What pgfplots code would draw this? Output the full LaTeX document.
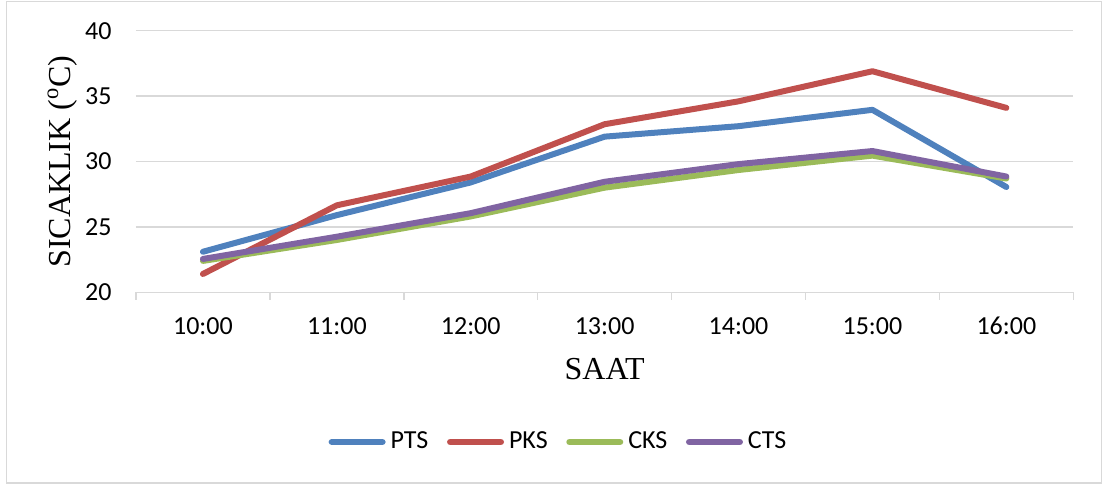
\documentclass[border=0pt]{standalone}
\usepackage{pgfplots}
\pgfplotsset{compat=1.18}
\usepackage{fontspec}
\setmainfont{Carlito}
\newfontfamily\timesfont{Liberation Serif}
\definecolor{cPTS}{HTML}{4F81BD}
\definecolor{cPKS}{HTML}{C0504D}
\definecolor{cCKS}{HTML}{9BBB59}
\definecolor{cCTS}{HTML}{8064A2}
\definecolor{gridc}{HTML}{D9D9D9}
\begin{document}
\begin{tikzpicture}
\useasboundingbox (0,0) rectangle (551.5pt,243pt);
\draw[color=gridc, line width=0.75pt] (3.15pt,1.5pt) rectangle (550.85pt,242.15pt);
\begin{axis}[
  at={(68pt,96.85pt)}, anchor=south west,
  scale only axis, width=468.65pt, height=130.8pt,
  xmin=-0.5, xmax=6.5, ymin=20, ymax=40,
  xtick={0,...,6},
  xticklabels={10:00,11:00,12:00,13:00,14:00,15:00,16:00},
  ytick={20,25,30,35,40},
  xtick pos=bottom, ytick pos=left,
  major tick length=0pt,
  axis line style={draw=none},
  ymajorgrids,
  grid style={color=gridc, line width=0.75pt},
  extra x ticks={-0.5,0.5,1.5,2.5,3.5,4.5,5.5,6.5},
  extra x tick labels={},
  extra x tick style={tick align=outside, major tick length=3.7pt,
    tick style={color=gridc, line width=0.75pt}},
  /pgf/number format/assume math mode=true,
  every tick label/.append style={font=\fontsize{13}{15}\selectfont, text=black},
  xticklabel style={anchor=base, yshift=-20.9pt},
  yticklabel style={anchor=east, xshift=-8.7pt},
  xlabel={SAAT},
  ylabel={SICAKLIK (\textsuperscript{o}C)},
  xlabel style={at={(axis description cs:0.5,0)}, anchor=base, yshift=-43.6pt,
    font=\timesfont\fontsize{16}{19}\selectfont},
  ylabel style={at={(axis description cs:0,0.5)}, anchor=base, yshift=32.65pt,
    font=\timesfont\fontsize{16}{19}\selectfont},
  legend style={draw=none, fill=none, at={(axis description cs:0.4492,-0.5723)}, anchor=center,
    legend columns=4, font=\fontsize{13}{15}\selectfont,
    /tikz/every even column/.append style={column sep=6.8pt},
    nodes={inner xsep=1pt}},
  legend image code/.code={
    \path (0pt,-2pt) (28.5pt,2pt);
    \draw[#1, line width=3.3pt, line cap=round] (1.65pt,0pt) -- (26.85pt,0pt);},
  every axis plot/.append style={line width=3.0pt, line join=round, line cap=round, mark=none},
]
\addplot[color=cPTS] coordinates {(0,23.1) (1,25.9) (2,28.4) (3,31.9) (4,32.7) (5,33.95) (6,28.05)};
\addlegendentry{PTS}
\addplot[color=cPKS] coordinates {(0,21.4) (1,26.65) (2,28.85) (3,32.85) (4,34.6) (5,36.9) (6,34.1)};
\addlegendentry{PKS}
\addplot[color=cCKS] coordinates {(0,22.4) (1,24.0) (2,25.8) (3,28.0) (4,29.35) (5,30.45) (6,28.7)};
\addlegendentry{CKS}
\addplot[color=cCTS] coordinates {(0,22.55) (1,24.25) (2,26.05) (3,28.45) (4,29.8) (5,30.8) (6,28.85)};
\addlegendentry{CTS}
\end{axis}
\end{tikzpicture}
\end{document}
